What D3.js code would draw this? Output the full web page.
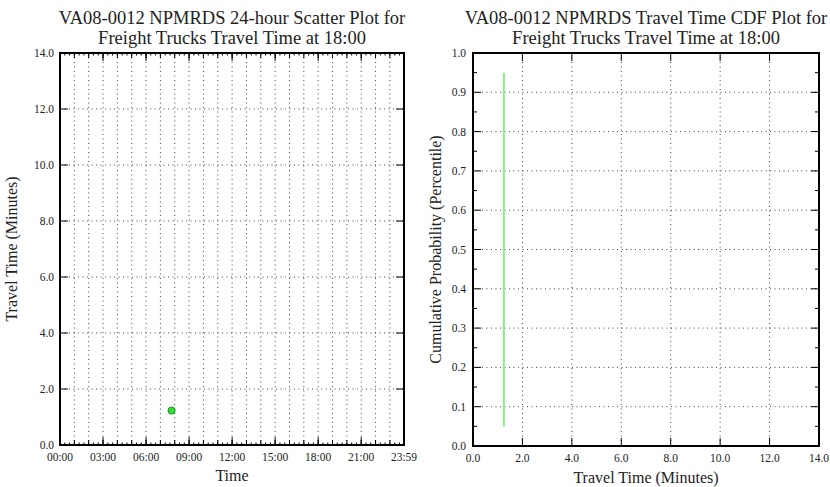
<!DOCTYPE html>
<html>
<head>
<meta charset="utf-8">
<script src="https://cdn.jsdelivr.net/npm/d3@7"></script>
<style>
  body { margin: 0; background: #fff; }
  svg { display: block; }
  text { font-family: "Liberation Serif", "DejaVu Serif", serif; fill: #222; }
</style>
</head>
<body>
<svg id="chart" width="830" height="487"></svg>
<script>
// Scatter observations: hour of day and travel time in minutes
const scatterHours = [7.78];
const scatterMinutes = [1.23];

// CDF curve: travel time (minutes) vs cumulative probability
const cdfMinutes = [1.25, 1.25];
const cdfProb = [0.05, 0.95];

// Tick labels
const timeTickHours = [0, 3, 6, 9, 12, 15, 18, 21, 23.9833];
const timeTickLabels = ["00:00", "03:00", "06:00", "09:00", "12:00", "15:00", "18:00", "21:00", "23:59"];
const minuteTicks = [0, 2, 4, 6, 8, 10, 12, 14];
const probTicks = [0, 0.1, 0.2, 0.3, 0.4, 0.5, 0.6, 0.7, 0.8, 0.9, 1.0];

const titles = [
  ["VA08-0012 NPMRDS 24-hour Scatter Plot for", "Freight Trucks Travel Time at 18:00"],
  ["VA08-0012 NPMRDS Travel Time CDF Plot for", "Freight Trucks Travel Time at 18:00"]
];

const svg = d3.select("#chart");

function frame(g, w, h) {
  g.append("rect").attr("x", 0).attr("y", 0).attr("width", w).attr("height", h)
    .attr("fill", "none").attr("stroke", "#000").attr("stroke-width", 2);
}

function gridV(g, xs, h) {
  g.selectAll(null).data(xs).enter().append("line")
    .attr("x1", d => d).attr("x2", d => d).attr("y1", 0).attr("y2", h)
    .attr("stroke", "#444").attr("stroke-width", 1).attr("stroke-dasharray", "1,3.5");
}
function gridH(g, ys, w) {
  g.selectAll(null).data(ys).enter().append("line")
    .attr("y1", d => d).attr("y2", d => d).attr("x1", 0).attr("x2", w)
    .attr("stroke", "#444").attr("stroke-width", 1).attr("stroke-dasharray", "1,3.5");
}
// inward ticks on both opposing edges
function ticksX(g, xs, h, len) {
  xs.forEach(x => {
    g.append("line").attr("x1", x).attr("x2", x).attr("y1", h).attr("y2", h - len).attr("stroke", "#000").attr("stroke-width", 1);
    g.append("line").attr("x1", x).attr("x2", x).attr("y1", 0).attr("y2", len).attr("stroke", "#000").attr("stroke-width", 1);
  });
}
function ticksY(g, ys, w, len) {
  ys.forEach(y => {
    g.append("line").attr("y1", y).attr("y2", y).attr("x1", 0).attr("x2", len).attr("stroke", "#000").attr("stroke-width", 1);
    g.append("line").attr("y1", y).attr("y2", y).attr("x1", w).attr("x2", w - len).attr("stroke", "#000").attr("stroke-width", 1);
  });
}

function title(cx, lines) {
  svg.append("text").attr("x", cx).attr("y", 24).attr("text-anchor", "middle")
    .attr("font-size", 18.5).text(lines[0]);
  svg.append("text").attr("x", cx).attr("y", 44).attr("text-anchor", "middle")
    .attr("font-size", 18.5).text(lines[1]);
}

// ---------- Left panel: 24-hour scatter ----------
{
  const L = { x: 60, y: 53, w: 344, h: 392 };
  const x = d3.scaleLinear().domain([0, 23.9833]).range([0, L.w]);
  const y = d3.scaleLinear().domain([0, 14]).range([L.h, 0]);
  const g = svg.append("g").attr("transform", `translate(${L.x},${L.y})`);

  gridV(g, d3.range(1, 24).map(x), L.h);
  gridH(g, minuteTicks.slice(1, -1).map(y), L.w);

  ticksX(g, d3.range(0, 24, 1 / 3).map(x), L.h, 2.5);
  ticksX(g, d3.range(0, 24, 1).map(x), L.h, 5);
  ticksX(g, timeTickHours.map(x), L.h, 8);
  ticksY(g, minuteTicks.map(y), L.w, 8);

  g.selectAll("circle").data(scatterHours).enter().append("circle")
    .attr("cx", (d, i) => x(d)).attr("cy", (d, i) => y(scatterMinutes[i]))
    .attr("r", 3.6).attr("fill", "#33dd33").attr("stroke", "#117711").attr("stroke-width", 0.8);

  frame(g, L.w, L.h);

  g.selectAll(".xl").data(timeTickHours).enter().append("text")
    .attr("x", d => x(d)).attr("y", L.h + 16).attr("text-anchor", "middle")
    .attr("font-size", 11.5).text((d, i) => timeTickLabels[i]);
  g.selectAll(".yl").data(minuteTicks).enter().append("text")
    .attr("x", -6).attr("y", d => y(d) + 4).attr("text-anchor", "end")
    .attr("font-size", 11.5).text(d => d.toFixed(1));

  g.append("text").attr("x", L.w / 2).attr("y", L.h + 36).attr("text-anchor", "middle")
    .attr("font-size", 16).text("Time");
  g.append("text").attr("transform", `translate(${-43},${L.h / 2}) rotate(-90)`)
    .attr("text-anchor", "middle").attr("font-size", 16).text("Travel Time (Minutes)");
  title(L.x + L.w / 2, titles[0]);
}

// ---------- Right panel: CDF ----------
{
  const R = { x: 473, y: 53, w: 346, h: 393 };
  const x = d3.scaleLinear().domain([0, 14]).range([0, R.w]);
  const y = d3.scaleLinear().domain([0, 1]).range([R.h, 0]);
  const g = svg.append("g").attr("transform", `translate(${R.x},${R.y})`);

  gridV(g, minuteTicks.slice(1, -1).map(x), R.h);
  gridH(g, probTicks.slice(1, -1).map(y), R.w);

  ticksX(g, minuteTicks.map(x), R.h, 8);
  ticksY(g, probTicks.map(y), R.w, 8);
  ticksY(g, d3.range(0.05, 1, 0.1).map(y), R.w, 4);

  const line = d3.line().x(d => x(d[0])).y(d => y(d[1]));
  g.append("path").datum(cdfMinutes.map((m, i) => [m, cdfProb[i]]))
    .attr("d", line).attr("fill", "none").attr("stroke", "#88ee88").attr("stroke-width", 2);

  frame(g, R.w, R.h);

  g.selectAll(".xl").data(minuteTicks).enter().append("text")
    .attr("x", d => x(d)).attr("y", R.h + 16).attr("text-anchor", "middle")
    .attr("font-size", 11.5).text(d => d.toFixed(1));
  g.selectAll(".yl").data(probTicks).enter().append("text")
    .attr("x", -7).attr("y", d => y(d) + 4).attr("text-anchor", "end")
    .attr("font-size", 11.5).text(d => d.toFixed(1));

  g.append("text").attr("x", R.w / 2).attr("y", R.h + 37).attr("text-anchor", "middle")
    .attr("font-size", 16).text("Travel Time (Minutes)");
  g.append("text").attr("transform", `translate(${-32},${R.h / 2}) rotate(-90)`)
    .attr("text-anchor", "middle").attr("font-size", 16).text("Cumulative Probability (Percentile)");
  title(R.x + R.w / 2, titles[1]);
}
</script>
</body>
</html>
